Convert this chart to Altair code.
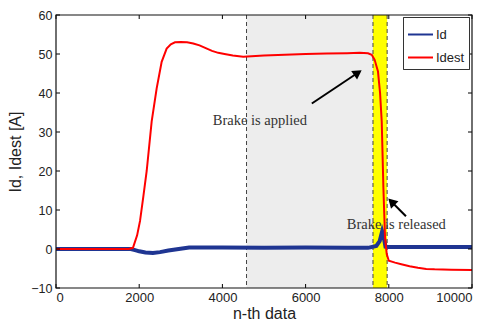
import altair as alt
import pandas as pd

# ---- data ----
red_x = [0, 1750, 1850, 1950, 2020, 2100, 2180, 2300, 2420, 2540, 2660, 2760, 2860, 3000,
         3150, 3300, 3450, 3600, 3750, 3900, 4050, 4250, 4500, 4700, 5000, 5500, 6000,
         6500, 7000, 7300, 7500, 7590, 7660, 7740, 7790, 7830, 7870, 7910, 7950, 8000,
         8150, 8300, 8500, 8700, 8900, 9100, 9500, 10000]
red_y = [0, 0, 0.3, 3.5, 7.2, 13.5, 20, 32.7, 41.2, 48, 51.4, 52.5, 53, 53.1,
         53, 52.7, 52.2, 51.5, 50.8, 50.3, 50, 49.6, 49.3, 49.4, 49.6, 49.8, 50,
         50.1, 50.2, 50.3, 50.2, 49.8, 48.5, 45.5, 40, 32.7, 15.7, 2.9, -1.3, -3.0,
         -3.5, -3.9, -4.4, -4.8, -5.1, -5.2, -5.3, -5.4]

blue_x = [0, 1800, 1900, 2000, 2150, 2330, 2500, 2700, 2950, 3200, 4000, 5000, 6000,
          7000, 7500, 7700, 7780, 7840, 7880, 7920, 8000, 9000, 10000]
blue_y = [0, 0, -0.3, -0.6, -0.9, -1.0, -0.8, -0.4, 0.0, 0.4, 0.4, 0.3, 0.4,
          0.3, 0.3, 0.8, 2.0, 4.5, 3.0, 0.6, 0.5, 0.5, 0.5]

region_start = [4580, 7620]
region_end = [7620, 7960]
region_color = ["#ededed", "#ffff00"]
dash_x = [4580, 7620, 7960]

x_ticks = [0, 2000, 4000, 6000, 8000, 10000]
y_ticks = [-10, 0, 10, 20, 30, 40, 50, 60]

note_text = ["Brake is applied", "Brake is released"]
note_x = [3770, 6990]
note_y = [32.7, 6.1]
arrow_tail_x = [6150, 8413]
arrow_tail_y = [37.3, 8.4]
arrow_head_x = [7257, 8065]
arrow_head_y = [45.2, 12.1]
arrow_angle = [56, 315]

W, H = 416, 273
BLUE = "#1f3592"
RED = "#ff0000"

lines = pd.concat([
    pd.DataFrame({"n": blue_x, "v": blue_y, "s": "Id"}),
    pd.DataFrame({"n": red_x, "v": red_y, "s": "Idest"}),
])
regions = pd.DataFrame({"a": region_start, "b": region_end, "c": region_color,
                        "lo": -10, "hi": 60})
dashes = pd.DataFrame({"d": dash_x})
notes = pd.DataFrame({"t": note_text, "x": note_x, "y": note_y})
arrows = pd.DataFrame({"x": arrow_tail_x, "y": arrow_tail_y,
                       "x2": arrow_head_x, "y2": arrow_head_y, "ang": arrow_angle})
xt = pd.DataFrame({"t": x_ticks})
yt = pd.DataFrame({"t": y_ticks})

xscale = alt.Scale(domain=[0, 10000], nice=False, zero=False)
yscale = alt.Scale(domain=[-10, 60], nice=False, zero=False)
xaxis = alt.Axis(values=x_ticks, format="d", title="n-th data", ticks=False, domain=False,
                 grid=False, labelFontSize=13, labelColor="#222", labelPadding=3,
                 titleFontSize=16, titleFontWeight="normal", titleColor="#222",
                 titlePadding=1, labelFont="Liberation Sans", titleFont="Liberation Sans",
                 zindex=1)
yaxis = alt.Axis(values=y_ticks, title="Id, Idest [A]", ticks=False, domain=False,
                 grid=False, labelFontSize=12.5, labelColor="#222", labelPadding=4,
                 titleFontSize=16, titleFontWeight="normal", titleColor="#222",
                 titlePadding=7, labelFont="Liberation Sans", titleFont="Liberation Sans",
                 zindex=1)


def X(f):
    return alt.X(f, type="quantitative", scale=xscale, axis=xaxis)


def Y(f):
    return alt.Y(f, type="quantitative", scale=yscale, axis=yaxis)


base_regions = alt.Chart(regions).mark_rect().encode(
    x=X("a"), x2="b", y=Y("lo"), y2="hi",
    color=alt.Color("c:N", scale=None))

dash_rules = alt.Chart(dashes).mark_rule(color="#444", strokeDash=[4, 3], strokeWidth=1).encode(
    x=X("d"), y=alt.value(0), y2=alt.value(H))

color = alt.Color("s:N", scale=alt.Scale(domain=["Id", "Idest"], range=[BLUE, RED]),
                  legend=alt.Legend(orient="none", legendX=347, legendY=2, title=None,
                                    strokeColor="#333", fillColor="white", padding=4,
                                    symbolType="stroke", symbolSize=625,
                                    symbolStrokeWidth=2, labelFontSize=13,
                                    labelFont="Liberation Sans", labelColor="#222",
                                    rowPadding=2, labelOffset=2))

blue_line = alt.Chart(lines[lines.s == "Id"]).mark_line(strokeWidth=4).encode(
    x=X("n"), y=Y("v"), color=color)
red_line = alt.Chart(lines[lines.s == "Idest"]).mark_line(strokeWidth=2).encode(
    x=X("n"), y=Y("v"), color=color)

note_marks = alt.Chart(notes).mark_text(align="left", baseline="middle", fontSize=14.5,
                                        font="Liberation Serif", color="#333").encode(
    x=X("x"), y=Y("y"), text="t:N")

shafts = alt.Chart(arrows).mark_rule(color="black", strokeWidth=2).encode(
    x=X("x"), y=Y("y"), x2="x2", y2="y2")
heads = alt.Chart(arrows).mark_point(shape="triangle-up", filled=True, color="black",
                                     size=110, opacity=1).encode(
    x=X("x2"), y=Y("y2"), angle=alt.Angle("ang:Q", scale=None))

tick_b = alt.Chart(xt).mark_rule(color="black").encode(x=X("t"), y=alt.value(H), y2=alt.value(H - 4))
tick_t = alt.Chart(xt).mark_rule(color="black").encode(x=X("t"), y=alt.value(0), y2=alt.value(4))
tick_l = alt.Chart(yt).mark_rule(color="black").encode(y=Y("t"), x=alt.value(0), x2=alt.value(4))
tick_r = alt.Chart(yt).mark_rule(color="black").encode(y=Y("t"), x=alt.value(W), x2=alt.value(W - 4))

border = alt.Chart(xt.head(1)).mark_rect(fillOpacity=0, stroke="#111", strokeWidth=1.2).encode(
    x=alt.value(0), x2=alt.value(W), y=alt.value(0), y2=alt.value(H))

chart = alt.layer(
    base_regions, dash_rules, blue_line, red_line, shafts, heads, note_marks,
    tick_b, tick_t, tick_l, tick_r, border
).resolve_scale(color="independent").properties(
    width=W, height=H,
    autosize=alt.AutoSizeParams(type="none"),
    padding={"left": 48, "top": 7, "right": 8, "bottom": 34},
    background="white",
).configure_view(stroke=None)

chart.save("out.html", embed_options={"renderer": "svg", "actions": False})
